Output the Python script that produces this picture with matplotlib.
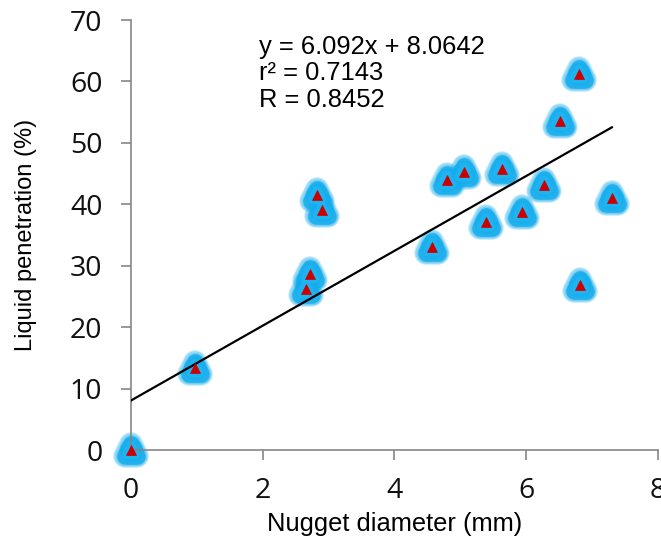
import matplotlib
matplotlib.use("Agg")
import matplotlib.pyplot as plt
from matplotlib.markers import MarkerStyle
import numpy as np

# Data
nugget_diameter = [0.0, 0.97, 2.66, 2.72, 2.82, 2.90, 4.57, 4.79, 5.06, 5.39,
                   5.63, 5.94, 6.27, 6.51, 6.80, 6.81, 7.30]
liquid_penetration = [0.0, 13.4, 26.2, 28.6, 41.5, 39.0, 33.0, 44.0, 45.3, 37.2,
                      45.7, 38.7, 43.2, 53.6, 61.2, 26.8, 41.0]
slope = 6.092
intercept = 8.0642
eq_lines = ["y = 6.092x + 8.0642", "r\u00b2 = 0.7143", "R = 0.8452"]
x_ticks = [0, 2, 4, 6, 8]
y_ticks = [0, 10, 20, 30, 40, 50, 60, 70]

fig = plt.figure(figsize=(6.61, 5.41), dpi=100)
ax = fig.add_axes([0.198, 0.168, 0.7975, 0.795])

x = np.array(nugget_diameter)
y = np.array(liquid_penetration)

glow = "#14ACEC"
tri_round = MarkerStyle("^", joinstyle="round")
# soft outer halo
for w in [17, 15.5, 14]:
    ax.plot(x, y, ls="none", marker=tri_round, ms=9, mew=w,
            mfc=glow, mec=glow, alpha=0.25, zorder=2, clip_on=False)
# solid core
ax.plot(x, y, ls="none", marker=tri_round, ms=9, mew=12,
        mfc=glow, mec=glow, alpha=0.85, zorder=2, clip_on=False)
ax.plot(x, y, ls="none", marker="o", ms=17, mew=0,
        mfc=glow, alpha=0.6, zorder=2, clip_on=False)
ax.plot(x, y, ls="none", marker=tri_round, ms=7, mew=6,
        mfc="#20B6F4", mec="#20B6F4", alpha=0.8, zorder=2, clip_on=False)

xl = np.array([0.0, x.max()])
ax.plot(xl, slope * xl + intercept, color="black", lw=1.6, zorder=3)

ax.plot(x, y, ls="none", marker="^", ms=6.5, mfc="#CC0000", mec="#CC0000",
        mew=0.5, zorder=4, clip_on=False)

ax.set_xlim(0, 8)
ax.set_ylim(0, 70)
ax.set_xticks(x_ticks)
ax.set_yticks(y_ticks)
ax.set_xticklabels([str(v) for v in x_ticks])
ax.set_yticklabels([str(v) for v in y_ticks])

for s in ["top", "right"]:
    ax.spines[s].set_visible(False)
for s in ["left", "bottom"]:
    ax.spines[s].set_color("#868686")
    ax.spines[s].set_linewidth(1.2)
ax.tick_params(axis="both", direction="out", length=7, width=1.2, color="#868686",
               labelsize=20.5)
ax.tick_params(axis="y", pad=13.5)
ax.tick_params(axis="x", pad=12)
for lab in ax.get_xticklabels() + ax.get_yticklabels():
    lab.set_fontfamily("Open Sans")
    lab.set_color("#111111")

ax.set_xlabel("Nugget diameter (mm)", fontsize=18.4, family="Liberation Sans", va="center")
ax.set_ylabel("Liquid penetration (%)", fontsize=17, family="Liberation Sans", va="center")
ax.xaxis.set_label_coords(0.5, -0.172)
ax.yaxis.set_label_coords(-0.199, 0.5)

ax.text(1.94, 67.6, "\n".join(eq_lines), fontsize=18.4, family="Liberation Sans",
        va="top", ha="left", linespacing=1.13, zorder=5)

fig.savefig("out.png", dpi=100)
